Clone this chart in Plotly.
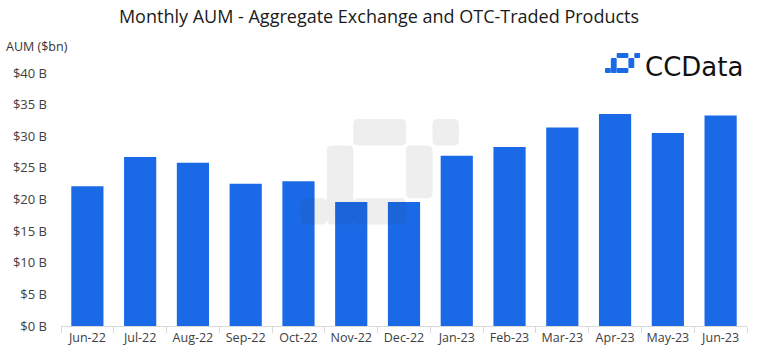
import plotly.graph_objects as go

months = ["Jun-22", "Jul-22", "Aug-22", "Sep-22", "Oct-22", "Nov-22", "Dec-22",
          "Jan-23", "Feb-23", "Mar-23", "Apr-23", "May-23", "Jun-23"]
aum_bn = [22.1, 26.7, 25.8, 22.5, 22.9, 19.6, 19.6, 26.9, 28.3, 31.4, 33.5, 30.5, 33.3]
y_ticks = [0, 5, 10, 15, 20, 25, 30, 35, 40]
y_tick_labels = ["$%d B" % v for v in y_ticks]

W, H = 758, 361
ML, MR, MT, MB = 61, 11, 73, 35
PW, PH = W - ML - MR, H - MT - MB
BLUE = "#1a6ae8"


def px(x):
    return (x - ML) / PW


def py(y):
    return (H - MB - y) / PH


fig = go.Figure(go.Bar(x=months, y=aum_bn, marker=dict(color=BLUE, line=dict(width=0)),
                       width=0.61))

# logo pieces in units (col0, row0, col1, row1)
pieces = [(2, 0, 4, 1), (5, 0, 6, 1), (4, 1, 5, 3), (1, 1, 2, 4), (2, 3, 4, 4), (0, 3, 1, 4)]


def rr(x0, y0, x1, y1, r):
    def P(x, y):
        return "%.5f,%.5f" % (px(x), py(y))
    return ("M" + P(x0 + r, y0) + " L" + P(x1 - r, y0) + " Q" + P(x1, y0) + " " + P(x1, y0 + r) +
            " L" + P(x1, y1 - r) + " Q" + P(x1, y1) + " " + P(x1 - r, y1) +
            " L" + P(x0 + r, y1) + " Q" + P(x0, y1) + " " + P(x0, y1 - r) +
            " L" + P(x0, y0 + r) + " Q" + P(x0, y0) + " " + P(x0 + r, y0) + " Z")


shapes = []
# watermark
ox, oy, ux, uy = 300.5, 119, 26.4, 26.4
for c0, r0, c1, r1 in pieces:
    shapes.append(dict(type="path", xref="paper", yref="paper", layer="above",
                       path=rr(ox + c0 * ux, oy + r0 * uy, ox + c1 * ux, oy + r1 * uy, 5),
                       fillcolor="rgba(60,60,60,0.085)", line=dict(width=0)))
# small blue logo icon
ox, oy, ux, uy = 605, 53, 5.85, 5.0
for c0, r0, c1, r1 in pieces:
    shapes.append(dict(type="path", xref="paper", yref="paper", layer="above",
                       path=rr(ox + c0 * ux, oy + r0 * uy, ox + c1 * ux, oy + r1 * uy, 1),
                       fillcolor=BLUE, line=dict(width=0)))

fig.update_layout(
    width=W, height=H,
    margin=dict(l=ML, r=MR, t=MT, b=MB, autoexpand=False),
    paper_bgcolor="white", plot_bgcolor="white",
    font=dict(family="Open Sans", color="#404040", size=12),
    title=dict(text="Monthly AUM - Aggregate Exchange and OTC-Traded Products",
               x=0.5, xanchor="center", y=1 - 17 / H, yanchor="middle",
               font=dict(size=18, color="#1a1a1a", family="Open Sans")),
    showlegend=False,
    bargap=0.39,
    shapes=shapes,
    annotations=[
        dict(text="AUM ($bn)", xref="paper", yref="paper", x=px(4), y=py(47),
             xanchor="left", yanchor="middle", showarrow=False,
             font=dict(size=12.5, color="#333333")),
        dict(text="CCData", xref="paper", yref="paper", x=px(643), y=py(67),
             xanchor="left", yanchor="middle", showarrow=False,
             font=dict(size=26, color="#111111", family="DejaVu Sans")),
    ],
)
fig.update_xaxes(type="category", showgrid=False, showline=True, linecolor="#d9d9d9",
                 linewidth=1, ticks="outside", tickson="boundaries", ticklen=6,
                 tickcolor="#d9d9d9", tickangle=0, automargin=False,
                 tickfont=dict(size=12.5, color="#404040"))
fig.update_yaxes(range=[0, 40], tickvals=y_ticks, ticktext=y_tick_labels, showgrid=False,
                 zeroline=False, showline=False, ticks="", ticklabelstandoff=13,
                 automargin=False, tickfont=dict(size=13, color="#404040"))

fig.write_html("out.html", config={"displayModeBar": False},
               post_script="document.body.style.margin='0';")
